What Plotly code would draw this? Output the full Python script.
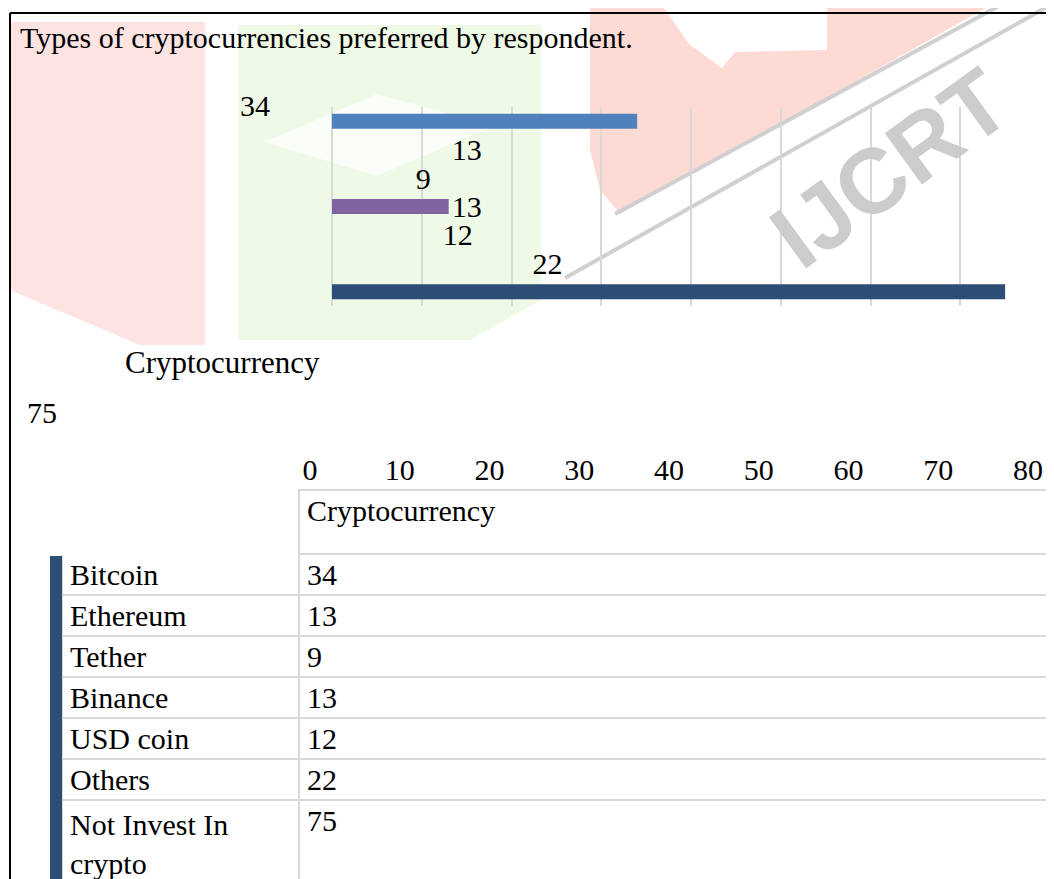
import plotly.graph_objects as go

# ---------------- data ----------------
categories = ["Bitcoin", "Ethereum", "Tether", "Binance", "USD coin", "Others", "Not Invest In crypto"]
values = [34, 13, 9, 13, 12, 22, 75]
group_label = "Cryptocurrency"
x_ticks = [0, 10, 20, 30, 40, 50, 60, 70, 80]
title_text = "Types of cryptocurrencies preferred by respondent."

# ---------------- styles ----------------
W, H = 1054, 879
OFF = 8  # page body margin in the browser
FONT = "Liberation Serif"
FS = 30
CLEAR = "rgba(0,0,0,0)"
bar_colors = ["#4F81BD", CLEAR, CLEAR, "#8064A2", CLEAR, CLEAR, "#2C4D75"]
label_on_bar = [False, True, True, True, True, True, False]
GRID = "#D9D9D9"


def px(x, y):
    return (x - OFF) / W, 1 - (y - OFF) / H


def fx(x):
    return px(x, 0)[0]


def fy(y):
    return px(0, y)[1]


def path(points):
    s = ""
    for i, (x, y) in enumerate(points):
        a, b = px(x, y)
        s += ("M" if i == 0 else "L") + f"{a:.5f},{b:.5f} "
    return s + "Z"


def pline(p0, p1, color, width, layer="above"):
    (x0, y0), (x1, y1) = px(*p0), px(*p1)
    return dict(type="line", xref="paper", yref="paper", x0=x0, y0=y0, x1=x1, y1=y1,
                line=dict(color=color, width=width), layer=layer)


def ppoly(points, color, layer="below"):
    return dict(type="path", xref="paper", yref="paper", path=path(points),
                fillcolor=color, line=dict(width=0), layer=layer)


fig = go.Figure()

for i, (c, v) in enumerate(zip(categories, values)):
    fig.add_trace(go.Bar(
        y=[group_label], x=[v], orientation="h", name=c,
        marker=dict(color=bar_colors[i], line=dict(width=0)),
        text=[str(v)] if label_on_bar[i] else None,
        textposition="outside", constraintext="none",
        textfont=dict(family=FONT, size=FS, color="black"),
        cliponaxis=False, showlegend=False, hoverinfo="x+name",
    ))

table_labels = [c.replace(" In crypto", " In<br>crypto") for c in categories]
fig.add_trace(go.Table(
    domain=dict(x=[fx(62), 1.0], y=[0.0, fy(490)]),
    columnwidth=[235, 757],
    header=dict(values=["", group_label], height=64, align="left",
                font=dict(family=FONT, size=30, color="black"),
                fill_color="white", line=dict(color=["white", GRID], width=2)),
    cells=dict(values=[table_labels, [str(v) for v in values]], height=41, align="left",
               font=dict(family=FONT, size=30, color="black"),
               fill_color="white", line=dict(color=GRID, width=2)),
))

shapes = [
    # watermark decorations
    ppoly([(10, 22), (205, 22), (205, 345), (140, 345), (10, 290)], "#FDE3E1"),
    ppoly([(238, 25), (541, 25), (541, 300), (470, 340), (238, 340)], "#EEF9E6"),
    ppoly([(264, 142), (377, 94), (494, 126), (377, 176)], "#FAFDF8"),
    ppoly([(590, 0), (1000, 0), (620, 214), (600, 190), (590, 150)], "#FDDAD4"),
    ppoly([(658, 0), (827, 0), (827, 50), (735, 52), (722, 68), (690, 45)], "white"),
    pline((615, 214), (1010, 0), "#D0D0D0", 4, "below"),
    pline((565, 278), (1054, 3), "#D0D0D0", 4, "below"),
    # page frame
    pline((10, 13), (1062, 13), "black", 2),
    pline((10, 13), (10, 887), "black", 2),
    # table accent stripe
    dict(type="rect", xref="paper", yref="paper",
         x0=fx(50), y0=fy(556), x1=fx(62), y1=fy(887),
         fillcolor="#2C4D75", line=dict(width=0)),
]


def ann(text, x, y, size=FS, **kw):
    a, b = px(x, y)
    d = dict(text=text, x=a, y=b, xref="paper", yref="paper", showarrow=False,
             xanchor="center", yanchor="middle",
             font=dict(family=FONT, size=size, color="black"))
    d.update(kw)
    return d


annotations = [
    ann(title_text, 18, 37, size=30, xanchor="left"),
    dict(text="<b>IJCRT</b>", x=px(890, 168)[0], y=px(890, 168)[1], xref="paper", yref="paper",
         textangle=-36, showarrow=False, font=dict(family="Liberation Sans", size=92, color="#CCCCCC"),
         xanchor="center", yanchor="middle"),
    ann(str(values[0]), 255, 105),
    ann(str(values[-1]), 42, 412),
    ann(group_label, 222, 362, size=31),
]

fig.update_layout(
    width=W, height=H,
    margin=dict(l=0, r=0, t=0, b=0, autoexpand=False),
    paper_bgcolor="white", plot_bgcolor="rgba(0,0,0,0)",
    barmode="group", bargap=0.0, bargroupgap=0.47,
    font=dict(family=FONT, size=FS, color="black"),
    xaxis=dict(domain=[fx(332), fx(1050)], range=[0, 80], tickvals=x_ticks,
               showgrid=True, gridcolor=GRID, gridwidth=1.5,
               zeroline=True, zerolinecolor=GRID, zerolinewidth=1.5,
               showline=False, ticks="", automargin=False,
               ticklabelstandoff=143, ticklabelshift=-22,
               tickfont=dict(family=FONT, size=FS, color="black")),
    yaxis=dict(domain=[fy(306), fy(107)], autorange="reversed", automargin=False,
               showticklabels=False, showgrid=False, zeroline=False, ticks=""),
    shapes=shapes,
    annotations=annotations,
)

fig.write_html("out.html")
